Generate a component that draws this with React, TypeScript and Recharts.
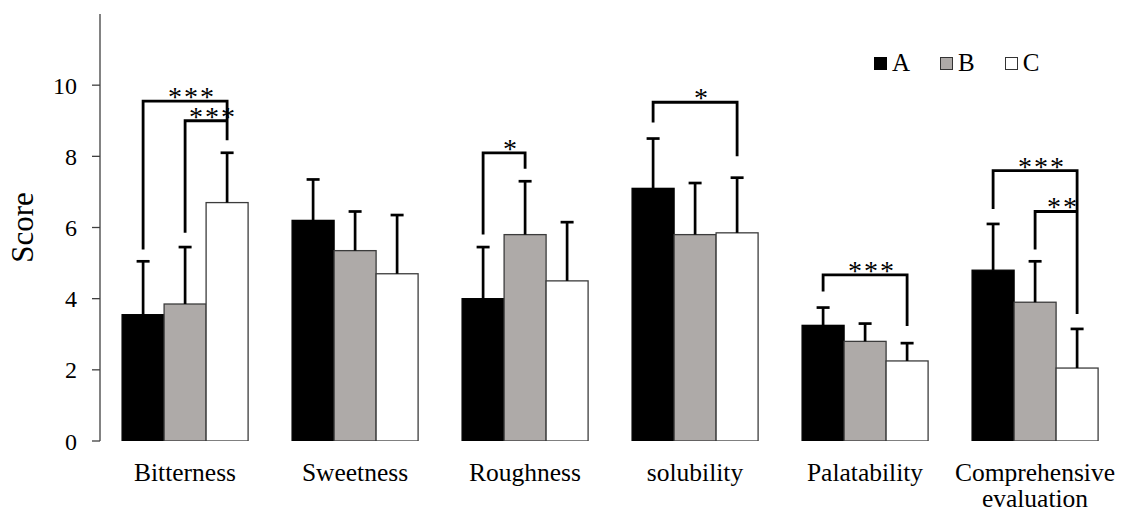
import React from "react";
import { BarChart, Bar, XAxis, YAxis, Legend } from "recharts";

const categories = ["Bitterness", "Sweetness", "Roughness", "solubility", "Palatability", "Comprehensive evaluation"];
const seriesNames = ["A", "B", "C"];
const seriesA = [3.55, 6.2, 4.0, 7.1, 3.25, 4.8];
const seriesB = [3.85, 5.35, 5.8, 5.8, 2.8, 3.9];
const seriesC = [6.7, 4.7, 4.5, 5.85, 2.25, 2.05];
const errA = [1.5, 1.15, 1.45, 1.4, 0.5, 1.3];
const errB = [1.6, 1.1, 1.5, 1.45, 0.5, 1.15];
const errC = [1.4, 1.65, 1.65, 1.55, 0.5, 1.1];
const yTicks = [0, 2, 4, 6, 8, 10];
const edgeTicks = [0, 1, 2, 3, 4, 5, 6];

// significance brackets: category, from/to series, bracket level, leg ends (score units)
const brackets = [
  { cat: 0, from: 0, to: 2, level: 9.55, leftEnd: 5.38, rightEnd: 8.45, label: "***" },
  { cat: 0, from: 1, to: 2, level: 9.0, leftEnd: 5.85, rightEnd: 9.0, label: "***" },
  { cat: 2, from: 0, to: 1, level: 8.1, leftEnd: 5.8, rightEnd: 7.65, label: "*" },
  { cat: 3, from: 0, to: 2, level: 9.52, leftEnd: 8.95, rightEnd: 8.0, label: "*" },
  { cat: 4, from: 0, to: 2, level: 4.67, leftEnd: 4.2, rightEnd: 3.23, label: "***" },
  { cat: 5, from: 0, to: 2, level: 7.6, leftEnd: 6.52, rightEnd: 3.57, label: "***" },
  { cat: 5, from: 1, to: 2, level: 6.45, leftEnd: 5.38, rightEnd: 6.45, label: "**" },
];

const values = [seriesA, seriesB, seriesC];
const errors = [errA, errB, errC];
const fills = ["#000000", "#aeaaa8", "#ffffff"];
const strokes = ["#000000", "#3c3c3c", "#3c3c3c"];

const data = categories.map((name, i) => ({ name, A: seriesA[i], B: seriesB[i], C: seriesC[i] }));

const FONT = '"Liberation Serif", "Times New Roman", Times, serif';

function makeShape(si: number) {
  return (props: any) => {
    const { x, y, width, height } = props;
    let idx = props.index;
    if (props.payload && props.payload.name) idx = categories.indexOf(props.payload.name);
    const v = values[si][idx];
    const ppu = height / v;
    const base = y + height;
    const yOf = (u: number) => base - u * ppu;
    const cx = x + width / 2;
    const errTop = yOf(v + errors[si][idx]);
    const barCenter = (k: number) => x + (k - si) * width + width / 2;
    return (
      <g>
        <rect x={x} y={y} width={width} height={height} fill={fills[si]} stroke={strokes[si]} strokeWidth={1.3} />
        <line x1={cx} x2={cx} y1={y} y2={errTop} stroke="#000" strokeWidth={2.7} />
        <line x1={cx - 6.5} x2={cx + 6.5} y1={errTop} y2={errTop} stroke="#000" strokeWidth={2.7} />
        {si === 2 &&
          brackets
            .filter((b) => b.cat === idx)
            .map((b, k) => {
              const xl = barCenter(b.from);
              const xr = barCenter(b.to);
              const yl = yOf(b.level);
              return (
                <g key={k}>
                  <path
                    d={`M${xl},${yOf(b.leftEnd)} V${yl} H${xr} V${yOf(b.rightEnd)}`}
                    fill="none"
                    stroke="#000"
                    strokeWidth={2.8}
                  />
                  <text x={(xl + xr) / 2 + 7} y={yl + 5} textAnchor="middle" fontFamily={FONT} fontSize={28} letterSpacing={2} fill="#000">
                    {b.label}
                  </text>
                </g>
              );
            })}
      </g>
    );
  };
}

function CategoryTick({ x, y, payload }: any) {
  const multi = payload.value === "Comprehensive evaluation";
  const rows = multi ? String(payload.value).split(" ") : [payload.value];
  return (
    <g>
      {rows.map((r: string, i: number) => (
        <text key={i} x={x} y={y + 40 + i * 26} textAnchor="middle" fontFamily={FONT} fontSize={25.5} fill="#000">
          {r}
        </text>
      ))}
    </g>
  );
}

function LegendContent() {
  return (
    <div style={{ display: "flex", fontFamily: FONT, fontSize: 25, color: "#000" }}>
      {seriesNames.map((n, i) => (
        <div key={n} style={{ display: "flex", alignItems: "center", marginRight: 30 }}>
          <span
            style={{
              display: "inline-block",
              width: 11,
              height: 11,
              background: fills[i],
              border: `1px solid ${i === 0 ? "#000" : "#333"}`,
              marginRight: 5,
            }}
          />
          <span>{n}</span>
        </div>
      ))}
    </div>
  );
}

export default function App() {
  return (
    <div style={{ position: "absolute", left: 0, top: 0, width: 1122, height: 515, background: "#fff" }}>
      <BarChart
        width={1122}
        height={515}
        data={data}
        margin={{ top: 14, right: 2, left: 0, bottom: 0 }}
        barCategoryGap="13%"
        barGap={0}
      >
        <XAxis
          xAxisId="edge"
          type="number"
          domain={[0, 6]}
          ticks={edgeTicks}
          allowDataOverflow
          height={0}
          tickSize={8}
          tickFormatter={() => ""}
          axisLine={{ stroke: "#404040", strokeWidth: 1.3 }}
          tickLine={{ stroke: "#404040", strokeWidth: 1.3 }}
        />
        <XAxis
          xAxisId="cat"
          dataKey="name"
          height={74}
          axisLine={false}
          tickLine={false}
          tickSize={0}
          tickMargin={0}
          interval={0}
          tick={<CategoryTick />}
        />
        <YAxis
          width={100}
          domain={[0, 12]}
          ticks={yTicks}
          allowDataOverflow
          tickSize={8}
          tickMargin={15}
          axisLine={{ stroke: "#404040", strokeWidth: 1.3 }}
          tickLine={{ stroke: "#404040", strokeWidth: 1.3 }}
          tick={{ fontSize: 24, fill: "#000", fontFamily: FONT }}
          label={{
            content: ({ viewBox }: any) => (
              <text
                x={22}
                y={viewBox.y + viewBox.height / 2}
                transform={`rotate(-90, 22, ${viewBox.y + viewBox.height / 2})`}
                textAnchor="middle"
                dominantBaseline="central"
                fontFamily={FONT}
                fontSize={31}
                fill="#000"
              >
                Score
              </text>
            ),
          }}
        />
        <Legend
          layout="horizontal"
          verticalAlign="middle"
          content={<LegendContent />}
          wrapperStyle={{ top: 49, left: 874, width: 240 }}
        />
        {seriesNames.map((n, i) => (
          <Bar
            key={n}
            xAxisId="cat"
            dataKey={n}
            name={n}
            fill={fills[i]}
            isAnimationActive={false}
            shape={makeShape(i)}
          />
        ))}
      </BarChart>
    </div>
  );
}
